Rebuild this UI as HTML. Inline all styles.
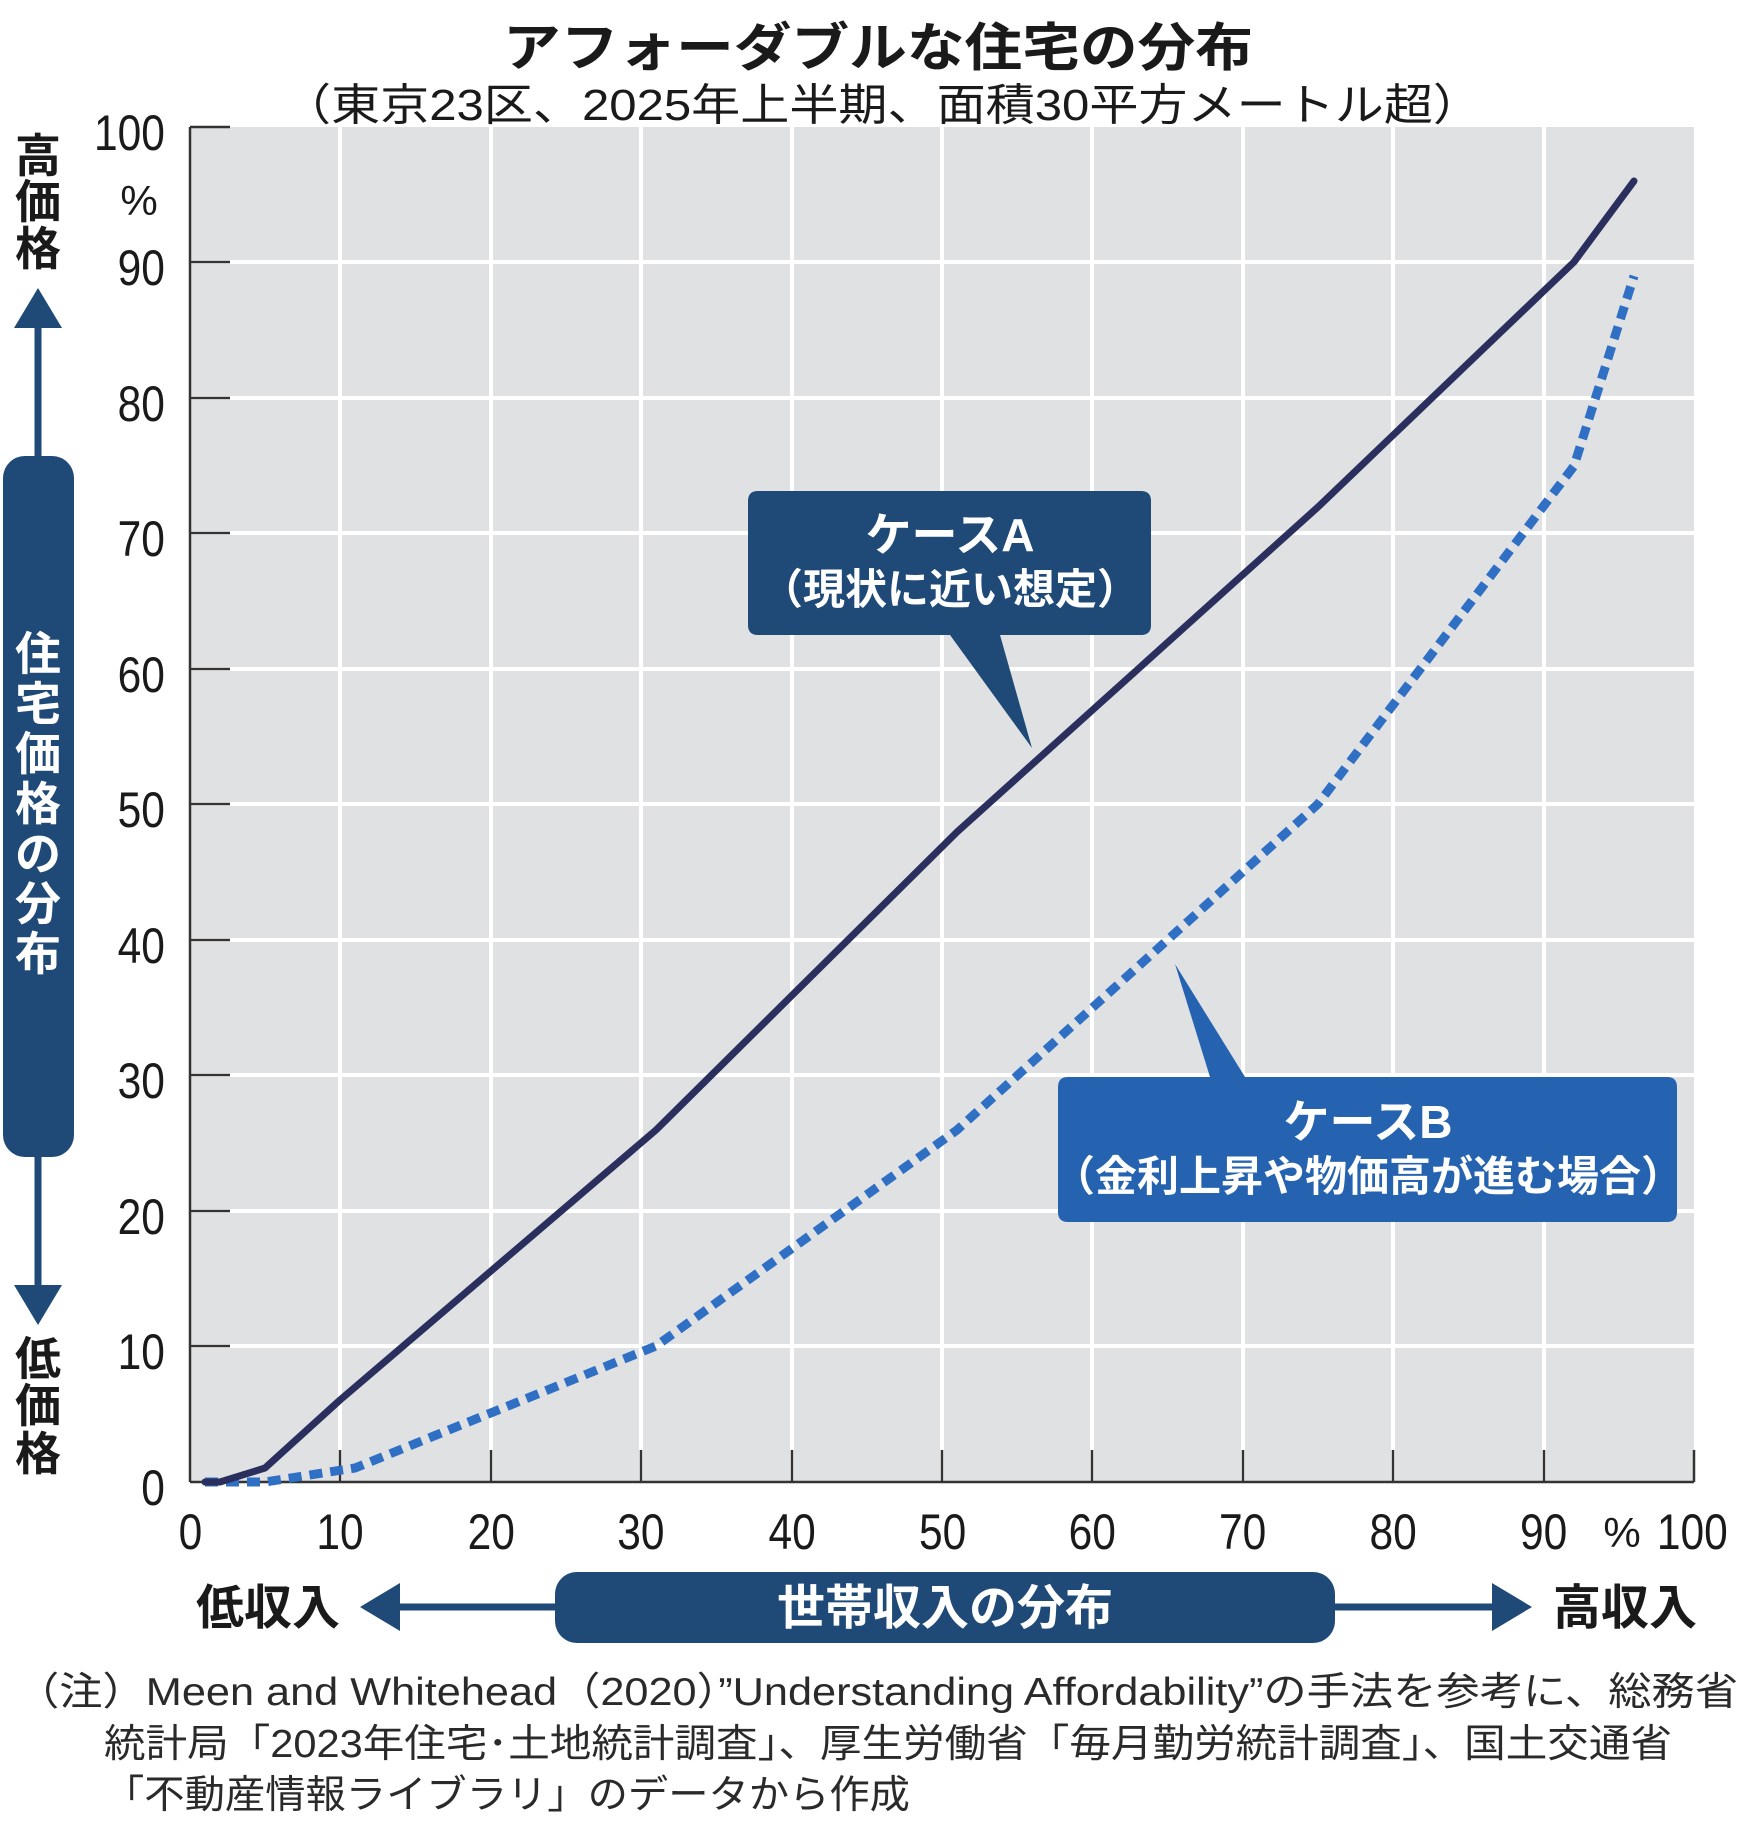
<!DOCTYPE html>
<html><head><meta charset="utf-8"><style>
html,body{margin:0;padding:0;background:#fff;}
svg{display:block;}
text{font-family:"Liberation Sans","Noto Sans CJK JP",sans-serif;}
</style></head><body>
<svg width="1753" height="1827" viewBox="0 0 1753 1827" xmlns="http://www.w3.org/2000/svg">
<rect width="1753" height="1827" fill="#fff"/>
<text x="503" y="66" font-size="52" font-weight="bold" fill="#1a1a1a" textLength="750" lengthAdjust="spacingAndGlyphs">アフォーダブルな住宅の分布</text>
<text x="282" y="120" font-size="44" fill="#1a1a1a" textLength="1200" lengthAdjust="spacingAndGlyphs">（東京23区、2025年上半期、面積30平方メートル超）</text>
<!-- plot -->
<rect x="190" y="127" width="1504" height="1355" fill="#e0e1e3"/>
<g stroke="#fff" stroke-width="4">
<line x1="340" y1="127" x2="340" y2="1482"/><line x1="491" y1="127" x2="491" y2="1482"/>
<line x1="641" y1="127" x2="641" y2="1482"/><line x1="792" y1="127" x2="792" y2="1482"/>
<line x1="942" y1="127" x2="942" y2="1482"/><line x1="1092" y1="127" x2="1092" y2="1482"/>
<line x1="1243" y1="127" x2="1243" y2="1482"/><line x1="1393" y1="127" x2="1393" y2="1482"/>
<line x1="1544" y1="127" x2="1544" y2="1482"/>
<line x1="190" y1="1346" x2="1694" y2="1346"/><line x1="190" y1="1211" x2="1694" y2="1211"/>
<line x1="190" y1="1075" x2="1694" y2="1075"/><line x1="190" y1="940" x2="1694" y2="940"/>
<line x1="190" y1="804" x2="1694" y2="804"/><line x1="190" y1="669" x2="1694" y2="669"/>
<line x1="190" y1="533" x2="1694" y2="533"/><line x1="190" y1="398" x2="1694" y2="398"/>
<line x1="190" y1="262" x2="1694" y2="262"/>
</g>
<g stroke="#333" stroke-width="2.5">
<line x1="190" y1="127" x2="190" y2="1482"/><line x1="190" y1="1482" x2="1694" y2="1482"/>
<line x1="340" y1="1450" x2="340" y2="1482"/><line x1="491" y1="1450" x2="491" y2="1482"/>
<line x1="641" y1="1450" x2="641" y2="1482"/><line x1="792" y1="1450" x2="792" y2="1482"/>
<line x1="942" y1="1450" x2="942" y2="1482"/><line x1="1092" y1="1450" x2="1092" y2="1482"/>
<line x1="1243" y1="1450" x2="1243" y2="1482"/><line x1="1393" y1="1450" x2="1393" y2="1482"/>
<line x1="1544" y1="1450" x2="1544" y2="1482"/><line x1="1694" y1="1450" x2="1694" y2="1482"/>
<line x1="190" y1="127" x2="230" y2="127"/><line x1="190" y1="262" x2="230" y2="262"/>
<line x1="190" y1="398" x2="230" y2="398"/><line x1="190" y1="533" x2="230" y2="533"/>
<line x1="190" y1="669" x2="230" y2="669"/><line x1="190" y1="804" x2="230" y2="804"/>
<line x1="190" y1="940" x2="230" y2="940"/><line x1="190" y1="1075" x2="230" y2="1075"/>
<line x1="190" y1="1211" x2="230" y2="1211"/><line x1="190" y1="1346" x2="230" y2="1346"/>
</g>
<!-- series -->
<polyline fill="none" stroke="#2f6fc4" stroke-width="9" stroke-dasharray="13 8" points="205,1482 265,1482 355,1468 656,1346 957,1130 1318,804 1574,466 1634,276"/>
<polyline fill="none" stroke="#2a2f5e" stroke-width="7" stroke-linecap="round" stroke-linejoin="round" points="205,1482 220,1482 265,1468 340,1400 656,1130 957,832 1318,507 1574,262 1634,181"/>
<!-- callouts -->
<path d="M758,491 H1141 Q1151,491 1151,501 V625 Q1151,635 1141,635 H1000 L1032,748 L950,635 H758 Q748,635 748,625 V501 Q748,491 758,491Z" fill="#1f4a78"/>
<text x="950" y="551" text-anchor="middle" font-size="46" font-weight="bold" fill="#fff">ケースA</text>
<text x="950" y="604" text-anchor="middle" font-size="42" font-weight="bold" fill="#fff">（現状に近い想定）</text>
<path d="M1068,1077 H1210 L1175,964 L1245,1077 H1667 Q1677,1077 1677,1087 V1212 Q1677,1222 1667,1222 H1068 Q1058,1222 1058,1212 V1087 Q1058,1077 1068,1077Z" fill="#2563b0"/>
<text x="1368" y="1138" text-anchor="middle" font-size="46" font-weight="bold" fill="#fff">ケースB</text>
<text x="1368" y="1191" text-anchor="middle" font-size="42" font-weight="bold" fill="#fff">（金利上昇や物価高が進む場合）</text>
<!-- y tick labels -->
<g font-size="50" fill="#1a1a1a" text-anchor="end" transform="scale(0.85,1)">
<text x="194" y="150">100</text><text x="194" y="285">90</text><text x="194" y="421">80</text>
<text x="194" y="556">70</text><text x="194" y="692">60</text><text x="194" y="827">50</text>
<text x="194" y="963">40</text><text x="194" y="1098">30</text><text x="194" y="1234">20</text>
<text x="194" y="1369">10</text><text x="194" y="1505">0</text>
</g>
<text x="139" y="215" text-anchor="middle" font-size="42" fill="#1a1a1a">%</text>
<!-- x tick labels -->
<g font-size="50" fill="#1a1a1a" text-anchor="middle">
<g transform="scale(0.85,1)">
<text x="224" y="1549">0</text><text x="400" y="1549">10</text><text x="578" y="1549">20</text>
<text x="754" y="1549">30</text><text x="932" y="1549">40</text><text x="1109" y="1549">50</text>
<text x="1285" y="1549">60</text><text x="1462" y="1549">70</text><text x="1639" y="1549">80</text>
<text x="1816" y="1549">90</text><text x="1991" y="1549">100</text>
</g>
<text x="1622" y="1547" font-size="42">%</text>
</g>
<!-- left vertical axis title -->
<g font-size="46" font-weight="bold" fill="#1a1a1a" text-anchor="middle">
<text x="38" y="172">高</text><text x="38" y="218">価</text><text x="38" y="265">格</text>
<text x="38" y="1375">低</text><text x="38" y="1422">価</text><text x="38" y="1470">格</text>
</g>
<line x1="38" y1="320" x2="38" y2="458" stroke="#1f4a78" stroke-width="7"/>
<polygon points="38,288 14,328 62,328" fill="#1f4a78"/>
<line x1="38" y1="1155" x2="38" y2="1295" stroke="#1f4a78" stroke-width="7"/>
<polygon points="38,1325 14,1285 62,1285" fill="#1f4a78"/>
<rect x="3" y="456" width="71" height="701" rx="22" fill="#1f4a78"/>
<g font-size="46" font-weight="bold" fill="#fff" text-anchor="middle">
<text x="38" y="670">住</text><text x="38" y="720">宅</text><text x="38" y="770">価</text>
<text x="38" y="820">格</text><text x="38" y="870">の</text><text x="38" y="920">分</text><text x="38" y="970">布</text>
</g>
<!-- bottom axis title -->
<line x1="390" y1="1607" x2="560" y2="1607" stroke="#1f4a78" stroke-width="7"/>
<polygon points="360,1607 400,1583 400,1631" fill="#1f4a78"/>
<line x1="1330" y1="1607" x2="1500" y2="1607" stroke="#1f4a78" stroke-width="7"/>
<polygon points="1532,1607 1492,1583 1492,1631" fill="#1f4a78"/>
<rect x="555" y="1572" width="780" height="71" rx="22" fill="#1f4a78"/>
<text x="945" y="1624" text-anchor="middle" font-size="48" font-weight="bold" fill="#fff">世帯収入の分布</text>
<text x="268" y="1624" text-anchor="middle" font-size="48" font-weight="bold" fill="#1a1a1a">低収入</text>
<text x="1625" y="1624" text-anchor="middle" font-size="48" font-weight="bold" fill="#1a1a1a">高収入</text>
<!-- notes -->
<g font-size="39" fill="#2a2a2a">
<text x="16" y="1705" textLength="1722" lengthAdjust="spacingAndGlyphs">（注）Meen and Whitehead（2020）”Understanding Affordability”の手法を参考に、総務省</text>
<text x="104" y="1757" textLength="1568" lengthAdjust="spacingAndGlyphs">統計局「2023年住宅･土地統計調査」、厚生労働省「毎月勤労統計調査」、国土交通省</text>
<text x="104" y="1808" textLength="806" lengthAdjust="spacingAndGlyphs">「不動産情報ライブラリ」のデータから作成</text>
</g>
</svg>
</body></html>
